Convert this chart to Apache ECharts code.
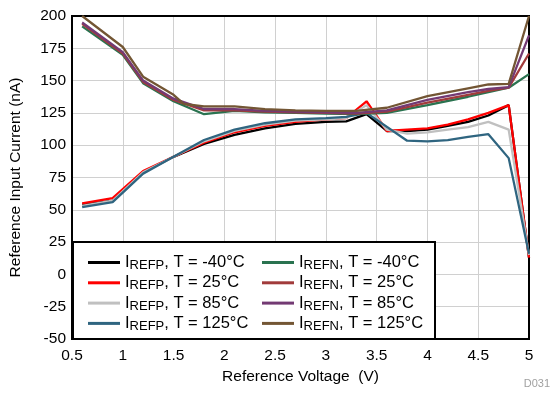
<!DOCTYPE html>
<html>
<head>
<meta charset="utf-8">
<script src="https://cdn.jsdelivr.net/npm/echarts@6/dist/echarts.min.js"></script>
<style>
  html, body { margin: 0; padding: 0; background: #fff; }
  #chart { width: 556px; height: 393px; }
</style>
</head>
<body>
<div id="chart"></div>
<script>
// IREFP curves [V, nA]
const irefpM40 = [[0.6, 54], [0.9, 57], [1.2, 79], [1.5, 91], [1.8, 101], [2.1, 108], [2.4, 113], [2.7, 116.5], [3.0, 118], [3.2, 118.5], [3.4, 124], [3.6, 111], [3.8, 111], [4.0, 112], [4.2, 115], [4.4, 118], [4.6, 123], [4.8, 131], [5.0, 13]];
const irefp25 = [[0.6, 55], [0.9, 59], [1.2, 80], [1.5, 91], [1.8, 102], [2.1, 110], [2.4, 115], [2.7, 118], [3.0, 120], [3.2, 121], [3.4, 134], [3.6, 111], [3.8, 112], [4.0, 113], [4.2, 116], [4.4, 120], [4.6, 125], [4.8, 131], [5.0, 13]];
const irefp85 = [[0.6, 53], [0.9, 57], [1.2, 79], [1.5, 91], [1.8, 103], [2.1, 111], [2.4, 116], [2.7, 119], [3.0, 120], [3.2, 121], [3.4, 131], [3.6, 112], [3.8, 109], [4.0, 110], [4.2, 112], [4.4, 114], [4.6, 118], [4.8, 112], [5.0, 15]];
const irefp125 = [[0.6, 52], [0.9, 56], [1.2, 78], [1.5, 91], [1.8, 104], [2.1, 112], [2.4, 117], [2.7, 120], [3.0, 121], [3.2, 122], [3.4, 125], [3.8, 103.5], [4.0, 103], [4.2, 104], [4.4, 106.5], [4.6, 108.5], [4.8, 90], [5.0, 16]];
// IREFN curves [V, nA]
const irefnM40 = [[0.6, 192], [1.0, 170], [1.2, 148], [1.5, 134], [1.8, 124], [2.1, 126.5], [2.4, 125.5], [2.7, 125], [3.0, 124.5], [3.3, 124], [3.6, 125], [4.0, 131], [4.4, 137.5], [4.6, 141], [4.8, 144.5], [5.0, 155]];
const irefn25 = [[0.6, 194], [1.0, 171], [1.2, 149], [1.5, 135], [1.8, 127], [2.1, 127], [2.4, 126], [2.7, 125.5], [3.0, 125], [3.3, 124.5], [3.6, 126], [4.0, 133], [4.4, 139], [4.6, 142], [4.8, 144.5], [5.0, 171]];
const irefn85 = [[0.6, 195], [1.0, 172], [1.2, 150], [1.5, 136], [1.8, 128], [2.1, 128], [2.4, 126.5], [2.7, 126], [3.0, 125.5], [3.3, 125], [3.6, 127], [4.0, 135], [4.4, 141], [4.6, 143.5], [4.8, 145], [5.0, 185]];
const irefn125 = [[0.6, 200], [1.0, 176], [1.2, 153], [1.5, 139], [1.6, 132], [1.8, 130], [2.1, 130], [2.4, 128], [2.7, 127], [3.0, 126.5], [3.3, 126.5], [3.6, 129], [4.0, 138], [4.4, 144], [4.6, 147], [4.8, 147.5], [5.0, 200]];

const leftNames = ["IREFP, T = -40°C", "IREFP, T = 25°C", "IREFP, T = 85°C", "IREFP, T = 125°C"];
const rightNames = ["IREFN, T = -40°C", "IREFN, T = 25°C", "IREFN, T = 85°C", "IREFN, T = 125°C"];

const FONT = "Liberation Sans, Arial, sans-serif";

function mkLine(name, data, color) {
    return {
        name: name,
        type: "line",
        data: data,
        symbol: "none",
        lineStyle: { color: color, width: 2.3 },
        itemStyle: { color: color },
        z: 2,
    };
}

// subscript for legend: "IREFP, ..." -> I{sub|REFP}, ...
function legendFmt(name) {
    return "I{sub|" + name.slice(1, 5) + "}" + name.slice(5);
}

const legendBase = {
    orient: "vertical",
    top: 249,
    icon: "rect",
    itemWidth: 32,
    itemHeight: 3,
    itemGap: 2.3,
    z: 10,
    formatter: legendFmt,
    textStyle: {
        fontFamily: FONT,
        fontSize: 16.5,
        color: "#000",
        rich: {
            sub: { fontFamily: FONT, fontSize: 13, padding: [6, 0, 0, 0] },
        },
    },
};

const option = {
    animation: false,
    backgroundColor: "#fff",
    grid: {
        left: 72,
        right: 27,
        top: 16,
        bottom: 54,
        show: true,
        borderColor: "#000",
        borderWidth: 2,
        z: 1,
    },
    xAxis: {
        type: "value",
        min: 0.5,
        max: 5,
        interval: 0.5,
        name: "Reference Voltage  (V)",
        nameLocation: "middle",
        nameGap: 30,
        nameTextStyle: { fontFamily: FONT, fontSize: 15.5, color: "#000" },
        axisLine: { show: false },
        axisTick: { show: false },
        axisLabel: { fontFamily: FONT, fontSize: 15.5, color: "#000", margin: 9 },
        splitLine: { show: true, lineStyle: { color: "#d0d0d0", width: 1 } },
    },
    yAxis: {
        type: "value",
        min: -50,
        max: 200,
        interval: 25,
        name: "Reference Input Current (nA)",
        nameLocation: "middle",
        nameGap: 48,
        nameTextStyle: { fontFamily: FONT, fontSize: 15.5, color: "#000" },
        axisLine: { show: false },
        axisTick: { show: false },
        axisLabel: { fontFamily: FONT, fontSize: 15.5, color: "#000", margin: 6 },
        splitLine: { show: true, lineStyle: { color: "#d0d0d0", width: 1 } },
    },
    legend: [
        Object.assign({}, legendBase, { left: 83, data: leftNames }),
        Object.assign({}, legendBase, { left: 257, data: rightNames }),
    ],
    graphic: [
        {
            type: "rect",
            shape: { x: 73, y: 242, width: 362, height: 97 },
            style: { fill: "#fff", stroke: "#000", lineWidth: 2 },
            z: 5,
        },
        {
            type: "text",
            right: 6,
            bottom: 4,
            style: { text: "D031", fontFamily: FONT, fontSize: 11, fill: "#a0a0a0" },
        },
    ],
    series: [
        mkLine(leftNames[0], irefpM40, "#000000"),
        mkLine(leftNames[1], irefp25, "#ff0000"),
        mkLine(leftNames[2], irefp85, "#c0c0c0"),
        mkLine(leftNames[3], irefp125, "#2f6580"),
        mkLine(rightNames[0], irefnM40, "#2a7350"),
        mkLine(rightNames[1], irefn25, "#a13b3b"),
        mkLine(rightNames[2], irefn85, "#733a73"),
        mkLine(rightNames[3], irefn125, "#735634"),
    ],
};

const myChart = echarts.init(document.getElementById("chart"));
myChart.setOption(option);
</script>
</body>
</html>
